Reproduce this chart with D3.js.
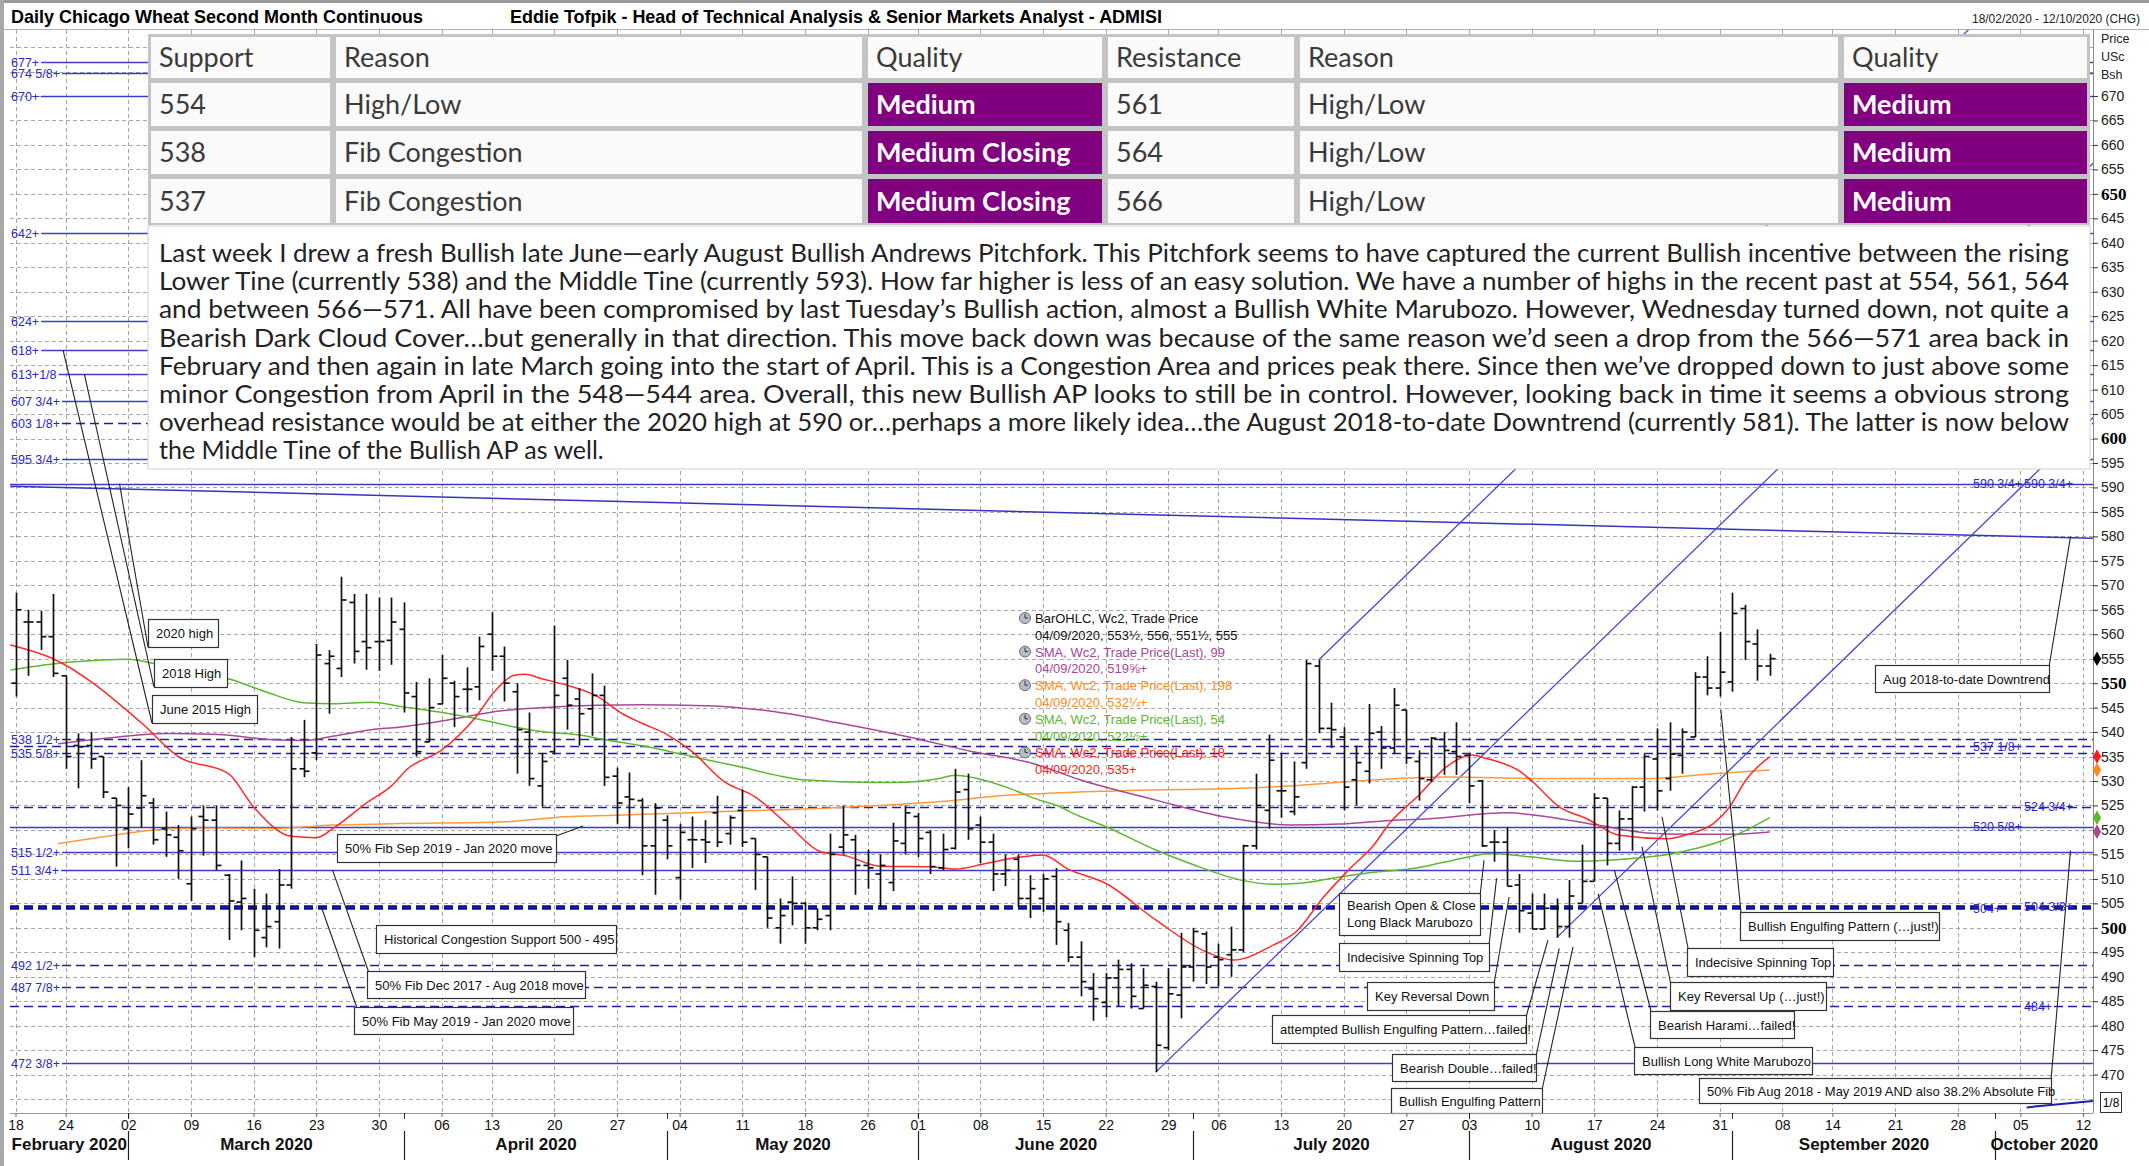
<!DOCTYPE html>
<html>
<head>
<meta charset="utf-8">
<script src="https://cdn.jsdelivr.net/npm/d3@7"></script>
<style>
  body { margin: 0; background: #fff; }
  svg text { font-family: "Liberation Sans", Arial, sans-serif; }
  .narrow { font-family: "Liberation Sans Narrow", "Arial Narrow", "Liberation Sans", sans-serif !important; }
</style>
</head>
<body>
<script>
// ---- calendar ----
const firstDay = "2020-02-18", lastDay = "2020-10-12";
const holidays = ["2020-04-10", "2020-05-25", "2020-07-03", "2020-09-07"];
const weekTicks = ["2020-02-18","2020-02-24","2020-03-02","2020-03-09","2020-03-16","2020-03-23","2020-03-30",
  "2020-04-06","2020-04-13","2020-04-20","2020-04-27","2020-05-04","2020-05-11","2020-05-18","2020-05-26",
  "2020-06-01","2020-06-08","2020-06-15","2020-06-22","2020-06-29","2020-07-06","2020-07-13","2020-07-20",
  "2020-07-27","2020-08-03","2020-08-10","2020-08-17","2020-08-24","2020-08-31","2020-09-08","2020-09-14",
  "2020-09-21","2020-09-28","2020-10-05","2020-10-12"];
const monthStarts = ["2020-03-02","2020-04-01","2020-05-01","2020-06-01","2020-07-01","2020-08-03","2020-09-01","2020-10-01"];
const monthNames = ["February 2020","March 2020","April 2020","May 2020","June 2020","July 2020","August 2020","September 2020","October 2020"];

// ---- daily OHLC, 18/02/2020 .. 04/09/2020 ----
const open = [550,562.5,562.5,559.5,551.5,537.25,537.25,535,526.5,520.25,
  524.5,525.5,520.25,518.5,509,522.75,522,510.75,505.25,504,
  498,501.25,508.75,532.5,535.75,554,553,566.5,558.5,558.5,
  558.75,561,547.25,538,545.75,550,548.75,549.25,560,555.5,
  548.25,540,529,536,551,546.75,544.75,547.5,531,526.75,
  526,516.75,522,510.25,518,518,523.5,519.25,524,518.25,
  514.5,500,505.25,505,500,502.5,516.5,518,512.75,511,
  509.25,517.25,522.75,519.5,512.25,516.25,528.25,521,517.5,511,
  514,506,506,510.5,499.5,494,487.5,484.75,489.75,491.5,
  483.5,488,475.5,486.25,492,498.75,494,494.5,495.5,516.75,
  524,528,523.75,533.75,553.5,540.75,539,530.25,532,540,
  536.75,544.5,534,530.25,538.5,536,535.25,530,517.5,517.5,
  508.75,503,499.75,504,500.25,505,509.5,526.5,517.25,522.25,
  528.75,534.5,530.5,535.25,539,551.25,549,550.25,565.25,558,
  553.5];
const high = [568.5,565,564.75,568.25,551.5,539.75,540,535,526.5,528.75,
  534.25,526.5,523.75,521,522.75,525,525,511,513.75,508,
  507,512,539,542.5,558,556.75,571.75,568.25,568.25,567.5,
  567.5,566.5,550.25,551,555.75,550.5,553.25,559.5,564.5,557.5,
  550,544,535.75,561.75,554.75,549,552,549.5,532.75,531.75,
  526.5,525.5,523,521.25,522.75,522,527,523,528.25,518.25,
  514.5,506,510.5,505.25,504,519.25,525,519,516,515,
  521.5,525,523.5,520,519.25,532.5,531.5,522.75,519.25,515,
  515,510.75,511,512.25,501,497.25,490.75,490.75,493.5,492.75,
  491.75,489,491.75,499,500,499.25,496.75,500.25,517,531.5,
  539.5,535.5,534,554.75,554.75,546,541,537.25,545.75,541.25,
  549,544.5,536.25,539,540,542,535.5,530.25,520,520.5,
  511,507,507,506,509.75,517,527.5,526.5,524,529,
  535.5,540.75,542,540.75,552.25,555.5,560.5,568.5,566,561,
  556];
const low = [547.25,551.5,556.75,551.25,532.5,528.5,532.5,526.5,512.5,516.25,
  520.5,517,514.5,510,505.5,514.75,511.75,497.5,499.5,494,
  496,495.75,508,530.75,534.25,543.75,551.25,554,552.75,552.5,
  553.75,544,535,538,545.75,541,544,546.5,552.5,546.25,
  531.5,529,524.75,535.5,540.5,537.25,539.25,529,521.25,520.25,
  510.75,506.75,514,505.75,512.25,513.25,516.5,517,516.5,507.75,
  500,496.75,500.5,496.75,499.5,499.5,515,506.75,508,504.25,
  507.5,515,514.5,511,511.75,516,518,513.25,507.5,508.5,
  504.25,502,503.25,496.5,493,486,481,481.75,484,483.5,
  483.5,470.5,475,481.5,489,488.5,488,490,495,516,
  520.25,522.5,523,532.5,539.75,536.75,524,525,529.5,532.5,
  535.5,533.5,526,529.75,531.25,531.25,525.5,516.5,513.5,508.5,
  499,499.75,499.75,498,498,505,509.5,512.75,515.75,515.75,
  523.75,524,528,531.5,539,547.5,547.25,548.25,554.75,550.5,
  551.5];
const close = [565,562.5,559.5,552,535,537,534.5,527.75,525,523.25,
  527,518,519,515.75,520.25,522,512.75,505.5,506,499.5,
  500.25,508.75,532.5,532,555.75,555.5,567,556.5,557.25,558.5,
  562.5,548,536,545,551,547.25,548.75,557.5,555.5,550,
  540.5,530.5,534,547.5,545.5,543.75,547.5,530.75,525.5,526.25,
  516.75,524.5,516.75,519.5,518,517.5,517.5,522.5,517.5,515,
  502,502.5,505,500,501.75,515,519,512.75,512.25,512.75,
  517.75,523.5,518.25,512.5,516,527.75,520.25,517.5,511,511.75,
  506,508,510,501.25,494,489,485.5,489.75,491.5,486,
  488.25,476,486.5,492,499.25,492,493.5,495.5,516.75,525,
  534.25,528,526.75,554,540.75,540.5,528.75,533.75,539.75,536.75,
  545.5,534.75,530.5,538.75,536.25,535,529,516.75,517.5,508.5,
  503.5,499.75,504,500.25,506.5,509.5,526.5,517.25,522.25,528.75,
  535,528,535.5,540,551.25,549,552.25,564.25,558.5,553.5,
  555];

// ---- moving averages: [bar index, value] ----
const sma18 = [[-0.4,557.8],[3,555],[10,542],[13,535],[17,531.5],[19,524.7],[22,518.7],[24,518.4],[25.5,520.6],
  [28,525.5],[30,529],[31.3,532.5],[34,536.3],[36.7,543],[38.3,548.5],[39.8,551.6],[40.7,551.8],[42,550.9],
  [44,549.6],[46.5,547.2],[48.4,543.8],[50,541.8],[52,539.5],[54,536],[56.5,530],[59,526.8],[61.8,520.7],
  [64.2,515.6],[66.3,514.7],[69,512.6],[73,512.5],[75,512],[77.5,513.2],[80,514.4],[82,514.9],[84,512],
  [87,509.1],[91,501.6],[95,495.1],[97.2,493.4],[100.4,496.5],[102.2,499.2],[104.4,506.3],[106.5,512.1],
  [108.3,516.6],[109.7,521.5],[112,527.1],[114.2,532.9],[116.2,535.3],[117.4,534.6],[120.1,531.9],[121.1,529.8],
  [123.2,524.7],[125.4,522.3],[128,518.9],[131.8,518.2],[133.6,519.2],[135.5,521.3],[136.8,524.7],[138.1,530.2],[140,535]];
const sma54 = [[-0.4,552.7],[4.4,554.3],[9.1,554.9],[11,554],[17.4,550.6],[20,548.2],[23,546],[25.4,545.8],
  [28.4,546.1],[30.6,545.3],[33.8,544.1],[36.7,542.8],[39.9,541],[42.3,540],[44.7,539.5],[47.4,538.3],[50,537.2],
  [53.5,535.3],[57.8,532.9],[63.1,530.2],[68.4,529.7],[70.3,529.7],[73.7,530.5],[75,531.2],[76.4,530.7],[79,528.8],
  [81.7,526.1],[83.3,524.8],[84.4,523.4],[87,520.7],[91,515.9],[93.7,513.2],[97.7,509.8],[100.4,508.9],[102.5,509.1],
  [105.7,510.4],[108.6,511.4],[111.5,512.1],[114.2,513.5],[117.9,515.2],[120.9,514.5],[124.8,513.6],[128.8,514.1],
  [132.3,515.2],[134.1,516.2],[136.3,517.9],[138.1,519.9],[140,522.5]];
const sma99 = [[3.4,537.6],[7,538.7],[12.2,539.7],[16.2,539.5],[20.2,538.5],[23.1,538.3],[25.4,539.2],[28.4,540.5],
  [30.6,541],[34.6,542.5],[38.6,544.3],[42.6,545.1],[46.5,545.5],[49.8,545.6],[55.1,545.4],[60.5,544.2],[65.8,541.8],
  [71.1,539.1],[76.4,536],[81.2,533.6],[84.9,530.3],[91,526.1],[96.4,522.7],[101.7,521],[105.7,521.2],[108.9,521.8],
  [112.9,522.3],[119,523.5],[122.2,522.7],[126.2,521],[130.2,519.4],[133.4,519.1],[136.8,519.1],[140,519.6]];
const sma198 = [[3.4,517.2],[7,518.6],[11,520],[15,520.4],[20.2,520.3],[25.4,521],[30.6,521.3],[38.6,521.6],
  [43.9,522.7],[47.9,523],[55.9,523.7],[65.8,524.6],[73.8,525.8],[79.1,527.1],[83.3,527.6],[89.7,528.1],[97.7,528.5],
  [101.7,529],[108.3,530.2],[114.2,530.8],[122.2,530.5],[130.2,530.5],[135.5,531.5],[140,532.25]];

// ---- drawn levels ----
const levelVals = [677,674.625,670,642,624,618,613.125,607.75,603.125,595.75,
  590.75,538.5,537.125,535.625,524.75,520.625,515.5,511.75,504,504.375,492.5,487.875,484,472.375];
const levelText = ["677+","674 5/8+","670+","642+","624+","618+","613+1/8","607 3/4+","603 1/8+","595 3/4+",
  "590 3/4+","538 1/2+","537 1/8+","535 5/8+","524 3/4+","520 5/8+","515 1/2+","511 3/4+","504+","504 3/8+",
  "492 1/2+","487 7/8+","484+","472 3/8+"];
const levelDashed = [0,0,0,0,0,0,0,0,1,0, 0,1,1,1,1,0,0,0,1,1,1,1,1,0];
const levelRight = [0,0,0,0,0,0,0,0,0,0, 1,0,1,0,1,1,0,0,1,1,0,0,1,0];

const downtrend = [[-0.4,590.25],[165.8,579.6]];
const pfA = [91,470.5], pfB = [104,554.75], pfC = [123,498];

// ---- table & commentary ----
const tableHead = ["Support","Reason","Quality","Resistance","Reason","Quality"];
const supLevel = ["554","538","537"];
const supReason = ["High/Low","Fib Congestion","Fib Congestion"];
const supQuality = ["Medium","Medium Closing","Medium Closing"];
const resLevel = ["561","564","566"];
const resReason = ["High/Low","High/Low","High/Low"];
const resQuality = ["Medium","Medium","Medium"];
const comment = [
  "Last week I drew a fresh Bullish late June\u2014early August Bullish Andrews Pitchfork. This Pitchfork seems to have captured the current Bullish incentive between the rising",
  "Lower Tine (currently 538) and the Middle Tine (currently 593). How far higher is less of an easy solution. We have a number of highs in the recent past at 554, 561, 564",
  "and between 566\u2014571. All have been compromised by last Tuesday\u2019s Bullish action, almost a Bullish White Marubozo. However, Wednesday turned down, not quite a",
  "Bearish Dark Cloud Cover\u2026but generally in that direction. This move back down was because of the same reason we\u2019d seen a drop from the 566\u2014571 area back in",
  "February and then again in late March going into the start of April. This is a Congestion Area and prices peak there. Since then we\u2019ve dropped down to just above some",
  "minor Congestion from April in the 548\u2014544 area. Overall, this new Bullish AP looks to still be in control. However, looking back in time it seems a obvious strong",
  "overhead resistance would be at either the 2020 high at 590 or\u2026perhaps a more likely idea\u2026the August 2018-to-date Downtrend (currently 581). The latter is now below",
  "the Middle Tine of the Bullish AP as well."];

const legendText = ["BarOHLC, Wc2, Trade Price","04/09/2020, 553\u00bd, 556, 551\u00bd, 555",
  "SMA, Wc2, Trade Price(Last),  99","04/09/2020, 519\u215d+",
  "SMA, Wc2, Trade Price(Last),  198","04/09/2020, 532\u00bc+",
  "SMA, Wc2, Trade Price(Last),  54","04/09/2020, 522\u00bd+",
  "SMA, Wc2, Trade Price(Last),  18","04/09/2020, 535+"];
const lastVals = [555, 519.625, 532.25, 522.5, 535];

// ---- annotation boxes (box in px, leader from box point to [bar, price]) ----
const notes = [
  {t:["2020 high"], box:[148,619,70,28], p:[148,647], to:[8.3,590.75]},
  {t:["2018 High"], box:[154,659,73,28], p:[154,687], to:[5.5,613.125]},
  {t:["June 2015 High"], box:[152,695,105,28], p:[152,723], to:[3.8,618]},
  {t:["50% Fib Sep 2019 - Jan 2020 move"], box:[337,834,219,28], p:[556,836], to:[45.3,520.8]},
  {t:["Historical Congestion Support 500 - 495"], box:[376,925,240,28]},
  {t:["50% Fib Dec 2017 - Aug 2018 move"], box:[367,971,218,27], p:[369,973], to:[25.3,511.8]},
  {t:["50% Fib May 2019 - Jan 2020 move"], box:[354,1007,219,27], p:[357,1008], to:[24.4,504.3]},
  {t:["Bearish Open & Close","Long Black Marubozo"], box:[1339,893,141,42], p:[1480,896], to:[117.2,513.8]},
  {t:["Indecisive Spinning Top"], box:[1339,943,150,28], p:[1489,945], to:[118.2,510.1]},
  {t:["Key Reversal Down"], box:[1367,982,127,28], p:[1494,984], to:[119.2,506.3]},
  {t:["attempted Bullish Engulfing Pattern\u2026failed!"], box:[1272,1015,254,28], p:[1526,1017], to:[122.3,497.5]},
  {t:["Bearish Double\u2026failed!"], box:[1392,1054,144,27], p:[1536,1056], to:[123.2,495.8]},
  {t:["Bullish Engulfing Pattern"], box:[1391,1088,151,25], p:[1542,1090], to:[124.3,496.1]},
  {t:["Bullish Engulfing Pattern (\u2026just!)"], box:[1740,912,199,28], p:[1741,912], to:[136.1,544.5]},
  {t:["Indecisive Spinning Top"], box:[1687,948,146,28], p:[1688,948], to:[131.4,522.7]},
  {t:["Key Reversal Up (\u2026just!)"], box:[1670,982,156,28], p:[1671,985], to:[129.8,516.6]},
  {t:["Bearish Harami\u2026failed!"], box:[1650,1011,144,27], p:[1651,1011], to:[127.6,511.8]},
  {t:["Bullish Long White Marubozo"], box:[1634,1047,178,27], p:[1635,1047], to:[126.3,507]},
  {t:["Aug 2018-to-date Downtrend"], box:[1875,665,174,27], p:[2049,667], to:[164,579.9]},
  {t:["50% Fib Aug 2018 - May 2019 AND also 38.2% Absolute Fib"], box:[1699,1078,352,25], p:[2051,1080], to:[164,515.8]}
];

// ---------------------------------------------------------------
const W = 2149, H = 1166;
const plot = {l: 10, r: 2093, t: 30, b: 1113};

const days = [];
for (let d = new Date(firstDay + "T00:00:00Z"); d <= new Date(lastDay + "T00:00:00Z"); d.setUTCDate(d.getUTCDate() + 1)) {
  const s = d.toISOString().slice(0, 10), wd = d.getUTCDay();
  if (wd > 0 && wd < 6 && !holidays.includes(s)) days.push(s);
}
const bars = open.map((o, i) => ({i, o, h: high[i], l: low[i], c: close[i]}));

const x = d3.scalePoint().domain(days).range([15.5, 2083]);
const xi = d3.scaleLinear().domain([0, days.length - 1]).range([15.5, 2083]);
const y = d3.scaleLinear().domain([470, 670]).range([1074.6, 96]);

const svg = d3.select("body").append("svg").attr("width", W).attr("height", H);
svg.append("rect").attr("width", W).attr("height", H).attr("fill", "#fff");

svg.append("defs").append("clipPath").attr("id", "clip")
  .append("rect").attr("x", plot.l).attr("y", plot.t).attr("width", plot.r - plot.l).attr("height", plot.b - plot.t);

// frame
svg.append("rect").attr("x", 0).attr("y", 0).attr("width", W).attr("height", 3).attr("fill", "#9a9a9a");
svg.append("rect").attr("x", 0).attr("y", 0).attr("width", 4).attr("height", H).attr("fill", "#a8a8a8");
svg.append("line").attr("x1", 4).attr("x2", W).attr("y1", 29.5).attr("y2", 29.5).attr("stroke", "#b0b0b0");

// titles
svg.append("text").attr("class", "narrow").attr("x", 11).attr("y", 23)
  .attr("font-size", 19).attr("font-weight", "bold").attr("textLength", 412).attr("lengthAdjust", "spacingAndGlyphs")
  .text("Daily Chicago Wheat Second Month Continuous");
svg.append("text").attr("class", "narrow").attr("x", 510).attr("y", 23)
  .attr("font-size", 19).attr("font-weight", "bold").attr("textLength", 652).attr("lengthAdjust", "spacingAndGlyphs")
  .text("Eddie Tofpik - Head of Technical Analysis & Senior Markets Analyst - ADMISI");
svg.append("text").attr("class", "narrow").attr("x", 1972).attr("y", 23)
  .attr("font-size", 12.5).attr("fill", "#222").attr("textLength", 168).attr("lengthAdjust", "spacingAndGlyphs")
  .text("18/02/2020 - 12/10/2020 (CHG)");

const g = svg.append("g").attr("clip-path", "url(#clip)");

// grid
g.append("g").selectAll("line").data(d3.range(465, 685, 5)).join("line")
  .attr("x1", plot.l).attr("x2", plot.r).attr("y1", d => Math.round(y(d)) + 0.5).attr("y2", d => Math.round(y(d)) + 0.5)
  .attr("stroke", "#a6a6a6").attr("stroke-dasharray", "4,3");
g.append("g").selectAll("line").data(weekTicks).join("line")
  .attr("x1", d => Math.round(x(d)) + 0.5).attr("x2", d => Math.round(x(d)) + 0.5).attr("y1", plot.t).attr("y2", plot.b)
  .attr("stroke", "#a6a6a6").attr("stroke-dasharray", "4,3");

// levels
const lv = g.append("g");
levelVals.forEach((v, k) => {
  const yy = Math.round(y(v)) + 0.5;
  const thick = (v === 504 || v === 504.375);
  let x0 = plot.l;
  if (!levelRight[k]) {
    const t = lv.append("text").attr("x", 11).attr("y", yy + 4.5).attr("font-size", 12.5).attr("fill", "#2a2ac4").text(levelText[k]);
    x0 = 11 + t.node().getComputedTextLength() + 2;
  }
  lv.insert("line", "text").attr("x1", x0).attr("x2", plot.r).attr("y1", yy).attr("y2", yy)
    .attr("stroke", levelDashed[k] ? (thick ? "#0c0c96" : "#1e1eaa") : "#3d3dc4")
    .attr("stroke-width", thick ? 2.4 : (levelDashed[k] ? 1.6 : 1.3))
    .attr("stroke-dasharray", levelDashed[k] ? "9,5" : null);
});
const rightLab = [[590.75, 1973], [590.75, 2024], [537.125, 1973], [524.75, 2024], [520.625, 1973], [504, 1973], [504.375, 2024], [484, 2024]];
const rightTxt = ["590 3/4+", "590 3/4+", "537 1/8+", "524 3/4+", "520 5/8+", "504+", "504 3/8+", "484+"];
lv.selectAll("text.r").data(rightLab).join("text").attr("class", "r")
  .attr("x", d => d[1]).attr("y", d => y(d[0]) + 4.5).attr("font-size", 12.5).attr("fill", "#2a2ac4")
  .text((d, k) => rightTxt[k]);

// trend lines
const lineGen = d3.line().x(d => xi(d[0])).y(d => y(d[1]));
g.append("path").attr("d", lineGen(downtrend)).attr("fill", "none").attr("stroke", "#3434c0").attr("stroke-width", 1.5);
g.append("path").attr("d", lineGen([[160.5, 463.3], [165.8, 464.6]])).attr("stroke", "#1e1eaa").attr("stroke-width", 2);
const mid = [(pfB[0] + pfC[0]) / 2, (pfB[1] + pfC[1]) / 2];
const slope = (mid[1] - pfA[1]) / (mid[0] - pfA[0]);
[pfA, pfB, pfC].forEach(p => {
  const iEnd = p[0] + (700 - p[1]) / slope;
  g.append("path").attr("d", lineGen([p, [iEnd, 700]])).attr("fill", "none").attr("stroke", "#4646d2").attr("stroke-width", 1.3);
});

// moving averages
const smooth = d3.line().x(d => xi(d[0])).y(d => y(d[1])).curve(d3.curveMonotoneX);
[[sma198, "#ff9a3c"], [sma99, "#a84898"], [sma54, "#5cb82e"], [sma18, "#ff2a2a"]].forEach(([s, c]) => {
  g.append("path").attr("d", smooth(s)).attr("fill", "none").attr("stroke", c).attr("stroke-width", 1.5);
});

// OHLC bars
const bg = g.append("g").attr("stroke", "#111").attr("stroke-width", 1.7);
bars.forEach(d => {
  const cx = Math.round(xi(d.i)) + 0.5;
  bg.append("line").attr("x1", cx).attr("x2", cx).attr("y1", y(d.h)).attr("y2", y(d.l));
  bg.append("line").attr("x1", cx - 5).attr("x2", cx).attr("y1", y(d.o)).attr("y2", y(d.o));
  bg.append("line").attr("x1", cx).attr("x2", cx + 5).attr("y1", y(d.c)).attr("y2", y(d.c));
});

// annotations
const an = svg.append("g");
notes.forEach(n => {
  if (n.p) an.append("line").attr("x1", n.p[0]).attr("y1", n.p[1]).attr("x2", xi(n.to[0])).attr("y2", y(n.to[1]))
    .attr("stroke", "#222").attr("stroke-width", 1.1);
});
notes.forEach(n => {
  const [bx, by, bw, bh] = n.box;
  an.append("rect").attr("x", bx + 0.5).attr("y", by + 0.5).attr("width", bw).attr("height", bh)
    .attr("fill", "#fff").attr("stroke", "#333").attr("stroke-width", 1.2);
  n.t.forEach((t, k) => {
    an.append("text").attr("x", bx + 8).attr("y", by + (n.t.length > 1 ? 17 + k * 17 : bh / 2 + 5))
      .attr("font-size", 13).attr("fill", "#111").text(t);
  });
});

// series legend
const lg = svg.append("g");
const legColors = ["#111", "#111", "#a84898", "#a84898", "#ff8c1a", "#ff8c1a", "#5cb82e", "#5cb82e", "#ff2020", "#ff2020"];
legendText.forEach((t, k) => {
  const yy = 623 + k * 16.8;
  lg.append("text").attr("x", 1035).attr("y", yy).attr("font-size", 13).attr("fill", legColors[k]).text(t);
  if (k % 2 === 0) {
    lg.append("circle").attr("cx", 1025).attr("cy", yy - 5).attr("r", 5.5).attr("fill", "#b8bcc8").attr("stroke", "#6a6e7c");
    lg.append("path").attr("d", `M1025,${yy - 9}V${yy - 5}H1028`).attr("stroke", "#333").attr("fill", "none");
  }
});

// table
const colX = [148, 333, 865, 1105, 1297, 1841, 2090];
const rowY = [34, 80, 128, 176, 225];
svg.append("rect").attr("x", colX[0]).attr("y", rowY[0]).attr("width", colX[6] - colX[0]).attr("height", rowY[4] - rowY[0]).attr("fill", "#c4c4c4");
const cells = [tableHead];
for (let r = 0; r < 3; r++) cells.push([supLevel[r], supReason[r], supQuality[r], resLevel[r], resReason[r], resQuality[r]]);
const tb = svg.append("g");
cells.forEach((row, r) => row.forEach((txt, c) => {
  const purple = r > 0 && (c === 2 || c === 5);
  tb.append("rect").attr("x", colX[c] + 3).attr("y", rowY[r] + 3).attr("width", colX[c + 1] - colX[c] - 6)
    .attr("height", rowY[r + 1] - rowY[r] - 5).attr("fill", purple ? "#800080" : "#fafafa");
  tb.append("text").attr("x", colX[c] + 11).attr("y", (rowY[r] + rowY[r + 1]) / 2 + 10)
    .attr("font-size", 27).attr("font-weight", purple ? "bold" : "normal")
    .attr("fill", purple ? "#fff" : "#3a3a3a").style("font-family", "Lato, 'Open Sans', sans-serif").text(txt);
}));

// commentary
svg.append("rect").attr("x", 148).attr("y", 226).attr("width", 1942).attr("height", 243).attr("fill", "#fff").attr("stroke", "#d0d0d0");
comment.forEach((t, k) => {
  const tx = svg.append("text").attr("x", 159).attr("y", 262 + k * 28.2).attr("font-size", 25).attr("fill", "#222")
    .style("font-family", "Lato, 'Open Sans', sans-serif").text(t);
  if (k < comment.length - 1) tx.attr("textLength", 1910).attr("lengthAdjust", "spacingAndGlyphs");
});

// right price axis
const ay = svg.append("g").attr("transform", `translate(${plot.r},0)`)
  .call(d3.axisRight(y).tickValues(d3.range(470, 671, 5)).tickSize(5).tickPadding(3));
ay.select(".domain").attr("stroke", "#888").attr("d", `M0.5,${plot.t}V${plot.b}`);
ay.selectAll(".tick line").attr("stroke", "#333");
ay.selectAll(".tick text").attr("font-size", 14).attr("fill", "#222")
  .style("font-family", "'Liberation Sans', Arial, sans-serif");
ay.selectAll(".tick text").filter(d => d % 50 === 0)
  .attr("font-size", 17).attr("font-weight", "bold").attr("fill", "#000")
  .style("font-family", "'Liberation Serif', 'Times New Roman', serif");
["Price", "USc", "Bsh"].forEach((t, k) => svg.append("text").attr("x", 2101).attr("y", 43 + k * 18)
  .attr("font-size", 12.5).attr("fill", "#222").text(t));
const sym = d3.symbol().type(d3.symbolDiamond).size(60);
["#000", "#a84898", "#ff8c1a", "#5cb82e", "#ff1a1a"].forEach((c, k) => {
  svg.append("path").attr("d", sym).attr("fill", c).attr("transform", `translate(2097,${y(lastVals[k])})`);
});
svg.append("rect").attr("x", 2100.5).attr("y", 1092.5).attr("width", 21).attr("height", 20).attr("fill", "#fff").attr("stroke", "#333");
svg.append("text").attr("x", 2111).attr("y", 1107).attr("text-anchor", "middle").attr("font-size", 12).text("1/8");

// bottom date axis
const ax = svg.append("g").attr("transform", `translate(0,${plot.b})`)
  .call(d3.axisBottom(x).tickValues(weekTicks).tickFormat(d => d.slice(8)).tickSize(4).tickPadding(3));
ax.select(".domain").attr("stroke", "#999").attr("d", `M${plot.l},0.5H${plot.r}`);
ax.selectAll(".tick line").attr("stroke", "#666");
ax.selectAll(".tick text").attr("class", "narrow").attr("font-size", 14).attr("fill", "#111");
const sepX = monthStarts.map(d => Math.round(x(d)) + 0.5);
svg.append("g").selectAll("line").data(sepX).join("line")
  .attr("x1", d => d).attr("x2", d => d).attr("y1", 1131).attr("y2", 1160).attr("stroke", "#222").attr("stroke-width", 1.2);
svg.append("g").selectAll("line").data(sepX).join("line")
  .attr("x1", d => d).attr("x2", d => d).attr("y1", plot.b).attr("y2", plot.b + 6).attr("stroke", "#222");
const bounds = [plot.l, ...sepX, plot.r];
svg.append("g").selectAll("text").data(monthNames).join("text").attr("class", "narrow")
  .attr("x", (d, k) => (bounds[k] + bounds[k + 1]) / 2).attr("y", 1150).attr("text-anchor", "middle")
  .attr("font-size", 17).attr("font-weight", "bold").attr("fill", "#111").text(d => d);
</script>
</body>
</html>
